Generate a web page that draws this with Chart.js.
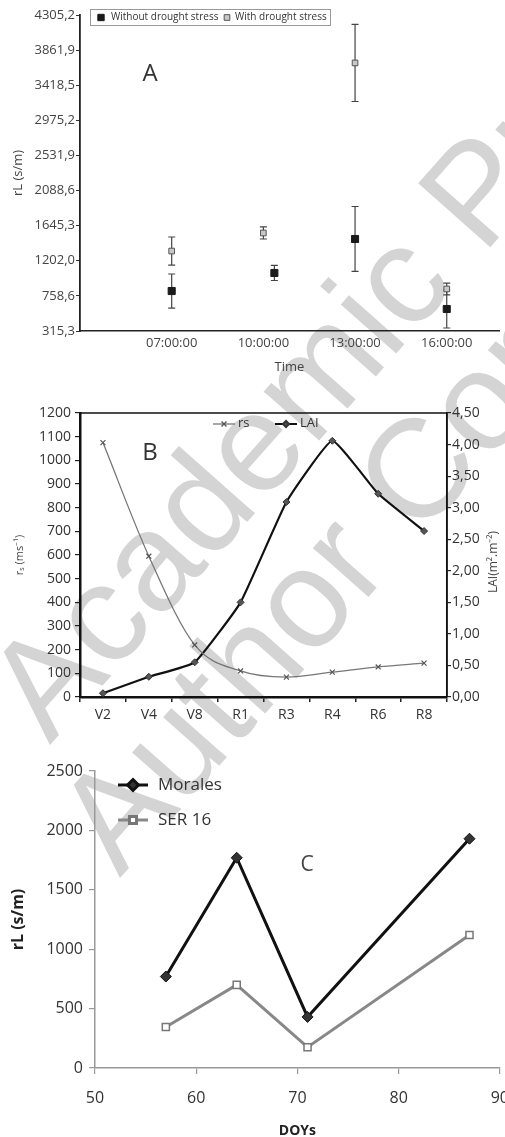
<!DOCTYPE html>
<html>
<head>
<meta charset="utf-8">
<script src="https://cdn.jsdelivr.net/npm/chart.js@4.4.0/dist/chart.umd.min.js"></script>
<style>
  body { margin: 0; width: 505px; height: 1137px; overflow: hidden; background: #fff; position: relative; }
  .wm { position: absolute; color: #d4d4d4; font-family: "Liberation Sans", sans-serif; font-size: 140px; line-height: 1; white-space: nowrap; transform-origin: 0 118.5px; transform: rotate(-48.5deg); }
  canvas { position: absolute; left: 0; }
</style>
</head>
<body>
<div class="wm" style="left:50px; top:627px">Academic Press</div>
<div class="wm" style="left:120px; top:760px">Author Copy</div>
<canvas id="chartA" width="505" height="380" style="top:0"></canvas>
<canvas id="chartB" width="505" height="330" style="top:400px"></canvas>
<canvas id="chartC" width="524" height="400" style="top:750px"></canvas>
<script>
const FONT = "'Open Sans', sans-serif";

// panel A - leaf resistance through the day
const timeLabels = ["07:00:00", "10:00:00", "13:00:00", "16:00:00"];
const timeSlot = [1, 2, 3, 4];
const withoutX = [1, 2.12, 3, 4];
const withoutRL = [820, 1048, 1477, 593];
const withoutErr = [215, 95, 410, 240];
const withRL = [1325, 1553, 3700, 846];
const withErr = [177, 76, 487, 75];
const rLTicks = [315.3, 758.6, 1202.0, 1645.3, 2088.6, 2531.9, 2975.2, 3418.5, 3861.9, 4305.2];

// panel B - rs and LAI by stage
const stages = ["V2", "V4", "V8", "R1", "R3", "R4", "R6", "R8"];
const rsValues = [1075, 595, 220, 110, 84, 105, 127, 143];
const laiValues = [0.06, 0.32, 0.55, 1.50, 3.09, 4.06, 3.22, 2.63];

// panel C - rL by day of year
const doys = [57, 64, 71, 87];
const moralesRL = [770, 1770, 430, 1930];
const ser16RL = [345, 700, 175, 1120];

const comma = (v, d) => v.toFixed(d).replace(".", ",");

function marker(ctx, style, r, x, y, fill, stroke, bw) {
  ctx.fillStyle = fill;
  ctx.strokeStyle = stroke;
  Chart.helpers.drawPoint(ctx, { pointStyle: style, radius: r, rotation: 0, borderWidth: bw }, x, y);
}

const errorBars = {
  id: "errorBars",
  beforeDatasetsDraw(chart) {
    const ctx = chart.ctx;
    const y = chart.scales.y;
    chart.data.datasets.forEach((ds, i) => {
      const meta = chart.getDatasetMeta(i);
      ctx.save();
      ctx.strokeStyle = "#444";
      ctx.lineWidth = 1.2;
      meta.data.forEach((pt, j) => {
        const v = ds.data[j].y;
        const e = ds.errors[j];
        const top = y.getPixelForValue(v + e);
        const bot = y.getPixelForValue(v - e);
        ctx.beginPath();
        ctx.moveTo(pt.x, top); ctx.lineTo(pt.x, bot);
        ctx.moveTo(pt.x - 3.5, top); ctx.lineTo(pt.x + 3.5, top);
        ctx.moveTo(pt.x - 3.5, bot); ctx.lineTo(pt.x + 3.5, bot);
        ctx.stroke();
      });
      ctx.restore();
    });
  }
};

const textA = {
  id: "textA",
  afterDraw(chart) {
    const ctx = chart.ctx;
    ctx.save();
    ctx.strokeStyle = "#999";
    ctx.lineWidth = 1;
    ctx.strokeRect(90.5, 9.5, 240, 16);
    marker(ctx, "rect", 4.5, 101, 17.5, "#1a1a1a", "#1a1a1a", 1);
    marker(ctx, "rect", 4, 227, 17.5, "#c8c8c8", "#555", 1);
    ctx.fillStyle = "#333";
    ctx.font = "10px " + FONT;
    ctx.textBaseline = "middle";
    ctx.fillText("Without drought stress", 111, 17.5);
    ctx.fillText("With drought stress", 235, 17.5);
    ctx.font = "24px " + FONT;
    ctx.textAlign = "center";
    ctx.fillText("A", 150, 74);
    ctx.restore();
  }
};

new Chart(document.getElementById("chartA"), {
  type: "scatter",
  data: {
    datasets: [
      {
        label: "With drought stress",
        data: timeSlot.map((x, i) => ({ x: x, y: withRL[i] })),
        errors: withErr,
        pointStyle: "rect",
        pointRadius: 4,
        backgroundColor: "#c8c8c8",
        borderColor: "#555",
        borderWidth: 1
      },
      {
        label: "Without drought stress",
        data: withoutX.map((x, i) => ({ x: x, y: withoutRL[i] })),
        errors: withoutErr,
        pointStyle: "rect",
        pointRadius: 5,
        backgroundColor: "#1a1a1a",
        borderColor: "#1a1a1a",
        borderWidth: 1
      }
    ]
  },
  options: {
    responsive: false,
    animation: false,
    layout: { padding: { top: 15, left: 0, right: 0, bottom: 0 } },
    plugins: { legend: { display: false }, tooltip: { enabled: false } },
    scales: {
      x: {
        type: "linear",
        min: 0,
        max: 4.57,
        afterBuildTicks: (s) => { s.ticks = timeSlot.map((v) => ({ value: v })); },
        afterFit: (s) => { s.height = 49; },
        ticks: { callback: (v, i) => timeLabels[i], font: { family: FONT, size: 13 }, color: "#444", padding: 4, maxRotation: 0, autoSkip: false },
        grid: { display: false, drawTicks: false },
        border: { color: "#222", width: 1.5 },
        title: { display: true, text: "Time", font: { family: FONT, size: 13 }, color: "#444", padding: { top: 0, bottom: 5 } }
      },
      y: {
        min: 315.3,
        max: 4305.2,
        afterBuildTicks: (s) => { s.ticks = rLTicks.map((v) => ({ value: v })); },
        afterFit: (s) => { s.width = 80; },
        ticks: { callback: (v) => comma(v, 1), font: { family: FONT, size: 13 }, color: "#444", padding: 1 },
        grid: { drawOnChartArea: false, tickLength: 4, color: "#333" },
        border: { color: "#222", width: 1.8 },
        title: { display: true, text: "rL (s/m)", font: { family: FONT, size: 13 }, color: "#444", padding: { top: 10, bottom: 0 } }
      }
    }
  },
  plugins: [errorBars, textA]
});

const textB = {
  id: "textB",
  afterDraw(chart) {
    const ctx = chart.ctx;
    const a = chart.chartArea;
    ctx.save();
    ctx.strokeStyle = "#111";
    ctx.lineWidth = 1.5;
    ctx.beginPath();
    ctx.moveTo(a.left, a.top); ctx.lineTo(a.right, a.top); ctx.lineTo(a.right, a.bottom);
    ctx.stroke();
    // legend
    ctx.lineWidth = 1.3;
    ctx.strokeStyle = "#777";
    ctx.beginPath(); ctx.moveTo(213, 24); ctx.lineTo(235, 24); ctx.stroke();
    marker(ctx, "crossRot", 3.5, 224, 24, "#555", "#555", 1.2);
    ctx.lineWidth = 2;
    ctx.strokeStyle = "#111";
    ctx.beginPath(); ctx.moveTo(275, 24); ctx.lineTo(297, 24); ctx.stroke();
    marker(ctx, "rectRot", 3, 286, 24, "#555", "#333", 1);
    ctx.fillStyle = "#333";
    ctx.font = "13px " + FONT;
    ctx.textBaseline = "middle";
    ctx.fillText("rs", 238, 23);
    ctx.fillText("LAI", 300, 23);
    ctx.font = "24px " + FONT;
    ctx.textAlign = "center";
    ctx.fillText("B", 150, 53);
    ctx.translate(494, 162);
    ctx.rotate(-Math.PI / 2);
    ctx.font = "12px " + FONT;
    ctx.fillStyle = "#444";
    ctx.fillText("LAI(m².m⁻²)", 0, 0);
    ctx.restore();
  }
};

new Chart(document.getElementById("chartB"), {
  type: "line",
  data: {
    labels: stages,
    datasets: [
      {
        label: "rs",
        data: rsValues,
        yAxisID: "y",
        borderColor: "#777",
        borderWidth: 1.3,
        pointStyle: "crossRot",
        pointRadius: 3.5,
        pointBorderColor: "#555",
        pointBorderWidth: 1.2,
        cubicInterpolationMode: "monotone",
        fill: false
      },
      {
        label: "LAI",
        data: laiValues,
        yAxisID: "y1",
        borderColor: "#111",
        borderWidth: 2.2,
        pointStyle: "rectRot",
        pointRadius: 3.5,
        pointBackgroundColor: "#555",
        pointBorderColor: "#333",
        pointBorderWidth: 1,
        tension: 0.12,
        fill: false
      }
    ]
  },
  options: {
    responsive: false,
    animation: false,
    layout: { padding: { top: 13, left: 0, right: 0, bottom: 0 } },
    plugins: { legend: { display: false }, tooltip: { enabled: false } },
    scales: {
      x: {
        offset: true,
        afterFit: (s) => { s.height = 33; },
        ticks: { font: { family: FONT, size: 14 }, color: "#333", padding: 5, maxRotation: 0 },
        grid: { offset: true, drawOnChartArea: false, tickLength: 5, color: "#222", lineWidth: 1.5 },
        border: { color: "#111", width: 2.5 }
      },
      y: {
        position: "left",
        min: 0,
        max: 1200,
        afterFit: (s) => { s.width = 80; },
        ticks: { stepSize: 100, callback: (v) => String(v), font: { family: FONT, size: 14 }, color: "#333", padding: 4 },
        grid: { drawOnChartArea: false, tickLength: 5, color: "#222", lineWidth: 1.2 },
        border: { color: "#111", width: 2.5 },
        title: { display: true, text: "rₛ (ms⁻¹)", font: { family: FONT, size: 11 }, color: "#444", padding: { top: 13, bottom: 0 } }
      },
      y1: {
        position: "right",
        min: 0,
        max: 4.5,
        afterFit: (s) => { s.width = 58; },
        ticks: { stepSize: 0.5, callback: (v) => comma(v, 2), font: { family: FONT, size: 14 }, color: "#333", padding: 1 },
        grid: { drawOnChartArea: false, tickLength: 4, color: "#222", lineWidth: 1.2 },
        border: { color: "#111", width: 1.5 }
      }
    }
  },
  plugins: [textB]
});

const textC = {
  id: "textC",
  afterDraw(chart) {
    const ctx = chart.ctx;
    ctx.save();
    ctx.lineWidth = 3;
    ctx.strokeStyle = "#111";
    ctx.beginPath(); ctx.moveTo(118, 35); ctx.lineTo(148, 35); ctx.stroke();
    marker(ctx, "rectRot", 5.5, 133, 35, "#333", "#111", 1);
    ctx.strokeStyle = "#888";
    ctx.beginPath(); ctx.moveTo(118, 70); ctx.lineTo(148, 70); ctx.stroke();
    marker(ctx, "rect", 5, 133, 70, "#fff", "#777", 1.5);
    ctx.fillStyle = "#333";
    ctx.font = "17px " + FONT;
    ctx.textBaseline = "middle";
    ctx.fillText("Morales", 158, 35);
    ctx.fillText("SER 16", 158, 70);
    ctx.font = "21px " + FONT;
    ctx.fillStyle = "#444";
    ctx.textAlign = "center";
    ctx.fillText("C", 307, 115);
    ctx.restore();
  }
};

new Chart(document.getElementById("chartC"), {
  type: "scatter",
  data: {
    datasets: [
      {
        label: "Morales",
        data: doys.map((d, i) => ({ x: d, y: moralesRL[i] })),
        showLine: true,
        borderColor: "#111",
        borderWidth: 3,
        pointStyle: "rectRot",
        pointRadius: 5.5,
        pointBackgroundColor: "#333",
        pointBorderColor: "#111",
        pointBorderWidth: 1
      },
      {
        label: "SER 16",
        data: doys.map((d, i) => ({ x: d, y: ser16RL[i] })),
        showLine: true,
        borderColor: "#888",
        borderWidth: 3,
        pointStyle: "rect",
        pointRadius: 5,
        pointBackgroundColor: "#fff",
        pointBorderColor: "#777",
        pointBorderWidth: 1.5
      }
    ]
  },
  options: {
    responsive: false,
    animation: false,
    layout: { padding: { top: 21, left: 0, right: 0, bottom: 0 } },
    plugins: { legend: { display: false }, tooltip: { enabled: false } },
    scales: {
      x: {
        type: "linear",
        min: 50,
        max: 90,
        afterFit: (s) => { s.height = 82; },
        ticks: { stepSize: 10, callback: (v) => String(v), font: { family: FONT, size: 16 }, color: "#333", padding: 15, maxRotation: 0 },
        grid: { drawOnChartArea: false, tickLength: 6, color: "#999", lineWidth: 1.2 },
        border: { color: "#999", width: 1.5 },
        title: { display: true, text: "DOYs", font: { family: FONT, size: 14, weight: "bold" }, color: "#222", padding: { top: 0, bottom: 11 } }
      },
      y: {
        min: 0,
        max: 2500,
        afterFit: (s) => { s.width = 95; },
        ticks: { stepSize: 500, callback: (v) => String(v), font: { family: FONT, size: 16 }, color: "#333", padding: 6 },
        grid: { drawOnChartArea: false, tickLength: 6, color: "#999", lineWidth: 1.2 },
        border: { color: "#999", width: 1.5 },
        title: { display: true, text: "rL (s/m)", font: { family: FONT, size: 16, weight: "bold" }, color: "#222", padding: { top: 9, bottom: 0 } }
      }
    }
  },
  plugins: [textC]
});
</script>
</body>
</html>
